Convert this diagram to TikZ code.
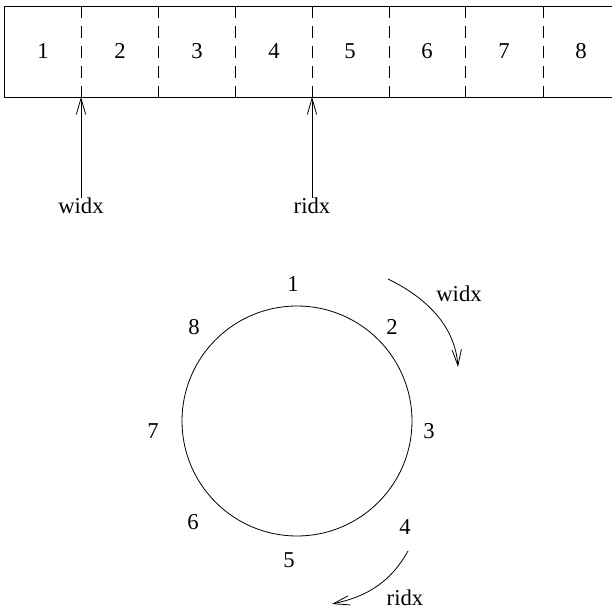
\documentclass[tikz,border=0pt]{standalone}
\usepackage{fontspec}
\setmainfont{Liberation Serif}
\usetikzlibrary{arrows.meta}
\begin{document}
\begin{tikzpicture}[x=0.75pt,y=-0.75pt,
  lbl/.style={font=\fontsize{17}{20}\selectfont, inner sep=0pt},
  ln/.style={line width=0.6pt},
  arr/.style={ln, -{Straight Barb[length=12pt,width=7pt,line width=0.6pt]}},
  div/.style={ln, dash pattern=on 9pt off 6pt}]
\useasboundingbox (0,0) rectangle (612,610);
% array box
\coordinate (tl) at (4,6);
\coordinate (bl) at (4,97);
\coordinate (tr) at (620,6);
\coordinate (br) at (620,97);
\draw[ln] (tr) -- (tl) -- (bl) -- (br);
\foreach \i/\x in {1/81,2/158,3/235,4/312,5/389,6/465,7/543}{
  \coordinate (dt\i) at (\x,6);
  \coordinate (db\i) at (\x,97);
  \draw[div] (dt\i) -- (db\i);
}
\foreach \i/\x in {1/43,2/120,3/197,4/274,5/350,6/427,7/504,8/581}{
  \node[lbl] (c\i) at (\x,51) {\i};
}
% pointers
\node[lbl] (widx) at (81,206) {widx};
\node[lbl] (ridx) at (312,206) {ridx};
\draw[arr] (widx.north) -- (db1);
\draw[arr] (ridx.north) -- (db4);
% ring
\node[circle, draw, ln, minimum size=230*0.75pt, inner sep=0pt] (ring) at (297,421) {};
\node[lbl] (r1) at (293,284) {1};
\node[lbl] (r2) at (392,327) {2};
\node[lbl] (r3) at (429,431) {3};
\node[lbl] (r4) at (405,527) {4};
\node[lbl] (r5) at (289,560) {5};
\node[lbl] (r6) at (193,522) {6};
\node[lbl] (r7) at (153,431) {7};
\node[lbl] (r8) at (194,327) {8};
% direction arrows
\node[lbl] (wlab) at (459,294) {widx};
\node[lbl] (rlab) at (405,598) {ridx};
\coordinate (ws) at (388,279);
\coordinate (we) at (458,367);
\draw[arr] (ws) .. controls (425,297) and (455,325) .. (we);
\coordinate (rs) at (408,551);
\coordinate (re) at (332,604);
\draw[arr] (rs) .. controls (388,587) and (360,598) .. (re);
\end{tikzpicture}
\end{document}
